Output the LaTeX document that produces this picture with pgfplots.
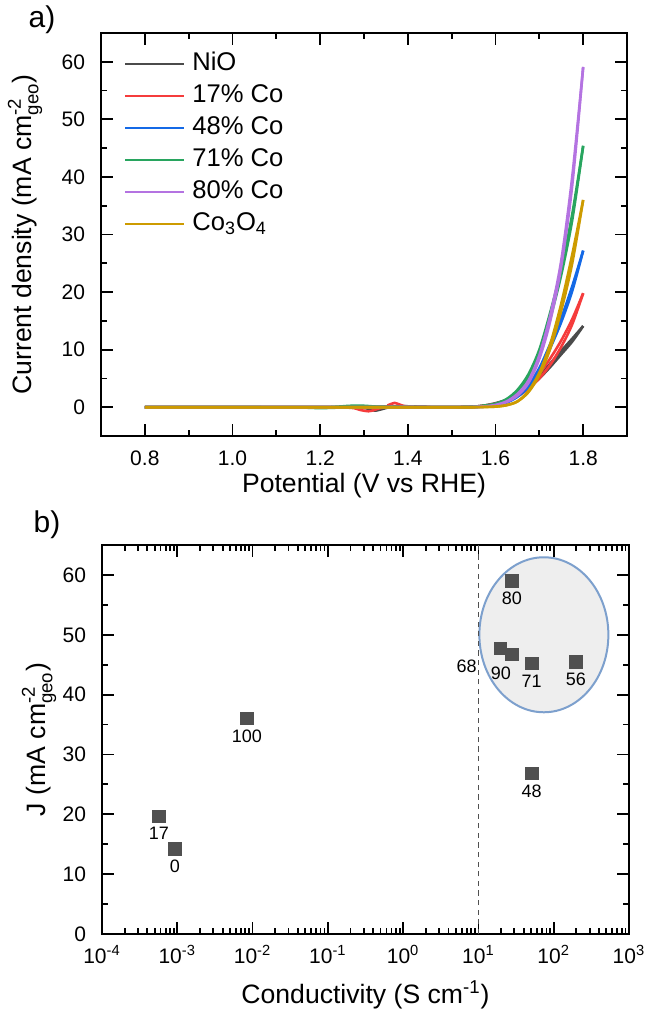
\documentclass[border=0pt]{standalone}
\usepackage{fontspec}
\setmainfont{Liberation Sans}
\usepackage{amsmath}
\usepackage{pgfplots}
\pgfplotsset{compat=1.18}

\definecolor{cNiO}{RGB}{75,75,75}
\definecolor{cRed}{RGB}{245,60,60}
\definecolor{cBlue}{RGB}{20,105,230}
\definecolor{cGreen}{RGB}{40,165,95}
\definecolor{cPurple}{RGB}{180,115,225}
\definecolor{cGold}{RGB}{205,155,0}
\definecolor{markgray}{RGB}{80,80,80}
\definecolor{ellfill}{RGB}{238,238,238}
\definecolor{elledge}{RGB}{125,160,205}

\pgfplotsset{
  panel/.style={
    scale only axis,
    anchor=north west,
    axis line style={line width=1pt},
    every tick/.style={line width=0.9pt, black},
    major tick length=6pt,
    minor tick length=3pt,
    tick align=inside,
    xtick pos=both, ytick pos=both,
    tick label style={font=\fontsize{10.5}{12}\selectfont},
    /pgf/number format/assume math mode=true,
    label style={font=\fontsize{13.3}{15}\selectfont},
    ytick={0,10,20,30,40,50,60},
    minor y tick num=1,
    yticklabel style={xshift=-4.5pt},
  },
  curve/.style={line width=1.3pt, smooth, tension=0.5},
}

\begin{document}
\begin{tikzpicture}
\useasboundingbox (0,0) rectangle (323pt,-507.5pt);

\node[font=\fontsize{15}{18}\selectfont] at (21pt,-10pt) {a)};
\node[font=\fontsize{15}{18}\selectfont] at (23.5pt,-262.5pt) {b)};

% ---- a) polarisation curves
\begin{axis}[panel,
  at={(50.5pt,-16.5pt)},
  width=263pt, height=201.5pt,
  xmin=0.7, xmax=1.9, ymin=-5, ymax=65,
  xtick={0.8,1.0,1.2,1.4,1.6,1.8},
  minor x tick num=1,
  xticklabel style={yshift=-4pt, /pgf/number format/.cd, fixed, fixed zerofill, precision=1},
  xlabel={Potential (V vs RHE)},
  ylabel={Current density (mA cm${}^{\text{-2}}_{\text{geo}}$)},
  xlabel style={at={(axis description cs:0.5,0)}, anchor=center, yshift=-25pt},
  ylabel style={at={(axis description cs:-0.1445,0.5)}, anchor=center},
  legend style={draw=none, fill=none, at={(axis description cs:0.031,0.965)}, anchor=north west,
    font=\fontsize{12.8}{14}\selectfont, row sep=3.5pt,
    nodes={inner sep=0pt, text height=9.5pt, text depth=3pt},
    /tikz/every odd column/.append style={column sep=3.5pt}},
  legend cell align=left,
  legend image code/.code={\draw[#1, line width=1.3pt] (0pt,0pt) -- (29.5pt,0pt);},
]
% NiO
\addplot[curve, cNiO] coordinates {
(0.8,0)(1.0,0)(1.2,0)(1.3,0.02)(1.37,0.08)(1.39,0.2)(1.41,0.1)(1.45,0.02)(1.5,0)
(1.55,0.1)(1.575,0.3)(1.6,0.7)(1.625,1.3)(1.65,2.3)(1.675,3.7)(1.7,5.4)(1.725,7.6)(1.75,9.8)(1.775,11.9)(1.8,14.1)};
\addlegendentry{NiO}
\addplot[curve, cNiO, forget plot] coordinates {
(1.8,14.1)(1.775,11.4)(1.75,9.2)(1.725,7.0)(1.7,5.0)(1.675,3.3)(1.65,2.0)(1.625,1.1)(1.6,0.5)(1.575,0.2)(1.55,0.05)(1.5,0)
(1.4,0)(1.36,0)(1.345,-0.25)(1.325,-0.6)(1.31,-0.3)(1.29,-0.05)(1.2,0)(1.0,0)(0.8,0)};
% 17 % Co
\addplot[curve, cRed] coordinates {
(0.8,0)(1.0,0)(1.2,0)(1.34,0.05)(1.355,0.35)(1.37,0.75)(1.385,0.35)(1.4,0.12)(1.45,0.03)(1.5,0)
(1.55,0.1)(1.575,0.3)(1.6,0.6)(1.625,1.2)(1.65,2.2)(1.675,3.7)(1.7,5.8)(1.725,8.5)(1.75,11.6)(1.775,15.3)(1.8,19.8)};
\addlegendentry{17\% Co}
\addplot[curve, cRed, forget plot] coordinates {
(1.8,19.8)(1.775,14.4)(1.75,10.5)(1.725,7.4)(1.7,5.0)(1.675,3.2)(1.65,1.9)(1.625,1.0)(1.6,0.45)(1.575,0.15)(1.55,0.05)(1.5,0)
(1.38,0.05)(1.34,-0.1)(1.325,-0.45)(1.31,-0.7)(1.29,-0.45)(1.27,-0.1)(1.2,0)(1.0,0)(0.8,0)};
% 48 % Co
\addplot[curve, cBlue] coordinates {
(0.8,0)(1.0,0)(1.2,0)(1.3,0.05)(1.4,0.05)(1.5,0)
(1.55,0.05)(1.575,0.15)(1.6,0.4)(1.625,0.9)(1.65,2.0)(1.675,3.8)(1.7,6.8)(1.725,11.0)(1.75,15.5)(1.775,21.0)(1.8,27.2)};
\addlegendentry{48\% Co}
\addplot[curve, cBlue, forget plot] coordinates {
(1.8,27.2)(1.775,20.2)(1.75,14.8)(1.725,10.3)(1.7,6.3)(1.675,3.5)(1.65,1.8)(1.625,0.8)(1.6,0.3)(1.575,0.1)(1.55,0.03)(1.5,0)
(1.4,0)(1.3,-0.05)(1.2,0)(1.0,0)(0.8,0)};
% 71 % Co
\addplot[curve, cGreen] coordinates {
(0.8,0)(1.0,0)(1.2,0)(1.24,0.1)(1.27,0.25)(1.3,0.25)(1.33,0.1)(1.38,0.05)(1.5,0)
(1.55,0.1)(1.575,0.3)(1.6,0.6)(1.625,1.4)(1.65,3.0)(1.675,5.7)(1.7,10.0)(1.725,16.5)(1.75,24.0)(1.775,33.5)(1.8,45.4)};
\addlegendentry{71\% Co}
\addplot[curve, cGreen, forget plot] coordinates {
(1.8,45.4)(1.775,32.5)(1.75,23.0)(1.725,15.5)(1.7,9.3)(1.675,5.2)(1.65,2.6)(1.625,1.2)(1.6,0.5)(1.575,0.2)(1.55,0.05)(1.5,0)
(1.3,0)(1.25,-0.05)(1.2,-0.15)(1.15,-0.05)(1.0,0)(0.8,0)};
% 80 % Co
\addplot[curve, cPurple] coordinates {
(0.8,0)(1.0,0)(1.2,0)(1.4,0.03)(1.5,0)
(1.55,0.05)(1.575,0.15)(1.6,0.4)(1.625,1.0)(1.65,2.3)(1.675,4.6)(1.7,9.0)(1.725,16.0)(1.75,25.5)(1.775,40.0)(1.8,59.1)};
\addlegendentry{80\% Co}
\addplot[curve, cPurple, forget plot] coordinates {
(1.8,59.1)(1.775,38.5)(1.75,24.5)(1.725,15.0)(1.7,8.4)(1.675,4.2)(1.65,2.0)(1.625,0.9)(1.6,0.3)(1.575,0.1)(1.55,0.03)(1.5,0)
(1.3,0)(1.0,0)(0.8,0)};
% Co3O4
\addplot[curve, cGold] coordinates {
(0.8,0)(1.0,0)(1.2,0)(1.4,0)(1.5,0)
(1.55,0)(1.575,0.05)(1.6,0.1)(1.625,0.35)(1.65,1.0)(1.675,2.8)(1.7,6.0)(1.725,11.0)(1.75,18.0)(1.775,26.5)(1.8,36.0)};
\addlegendentry{Co\textsubscript{3}O\textsubscript{4}}
\addplot[curve, cGold, forget plot] coordinates {
(1.8,36.0)(1.775,25.0)(1.75,16.8)(1.725,10.2)(1.7,5.6)(1.675,2.6)(1.65,1.0)(1.625,0.35)(1.6,0.1)(1.575,0.03)(1.55,0)(1.5,0)
(1.3,0)(1.0,0)(0.8,0)};
\end{axis}

% ---- b) J vs conductivity
\begin{axis}[panel,
  at={(51pt,-272.5pt)},
  width=263.5pt, height=194.5pt,
  xmode=log, xmin=1e-4, xmax=1e3, ymin=0, ymax=65,
  xtick={1e-4,1e-3,1e-2,1e-1,1,10,100,1000},
  xticklabels={10\textsuperscript{-4},10\textsuperscript{-3},10\textsuperscript{-2},10\textsuperscript{-1},10\textsuperscript{0},10\textsuperscript{1},10\textsuperscript{2},10\textsuperscript{3}},
  minor xtick={2e-4,3e-4,4e-4,5e-4,6e-4,7e-4,8e-4,9e-4,
    2e-3,3e-3,4e-3,5e-3,6e-3,7e-3,8e-3,9e-3,
    2e-2,3e-2,4e-2,5e-2,6e-2,7e-2,8e-2,9e-2,
    0.2,0.3,0.4,0.5,0.6,0.7,0.8,0.9,
    2,3,4,5,6,7,8,9,
    20,30,40,50,60,70,80,90,
    200,300,400,500,600,700,800,900},
  xticklabel style={yshift=-2pt},
  xlabel={Conductivity (S cm\textsuperscript{-1})},
  ylabel={J (mA cm${}^{\text{-2}}_{\text{geo}}$)},
  xlabel style={at={(axis description cs:0.5,0)}, anchor=center, yshift=-30.5pt},
  ylabel style={at={(axis description cs:-0.1195,0.5)}, anchor=center},
  every node near coord/.style={font=\fontsize{9}{10}\selectfont, anchor=center, yshift=-8.75pt, text=black},
]
\draw[elledge, line width=1pt, fill=ellfill] (axis cs:74,50) ellipse [x radius=32.25pt, y radius=38.75pt];
\addplot[markgray, line width=0.6pt, dash pattern=on 2.6pt off 2.2pt] coordinates {(10,0)(10,65)};
\addplot[only marks, mark=square*, mark size=3.1pt, markgray,
  nodes near coords, point meta=explicit symbolic] table[x=s, y=j, meta=lab] {
s j lab
9.3e-4 14.2 0
5.7e-4 19.7 17
51 26.8 48
51 45.2 71
27.9 59.0 80
197 45.5 56
8.4e-3 36.0 100
};
\addplot[only marks, mark=square*, mark size=3.1pt, markgray,
  nodes near coords, point meta=explicit symbolic,
  every node near coord/.append style={xshift=-17pt, yshift=-0.25pt}] table[x=s, y=j, meta=lab] {
s j lab
19.7 47.7 68
};
\addplot[only marks, mark=square*, mark size=3.1pt, markgray,
  nodes near coords, point meta=explicit symbolic,
  every node near coord/.append style={xshift=-5.5pt, yshift=-0.75pt}] table[x=s, y=j, meta=lab] {
s j lab
27.9 46.7 90
};
\end{axis}
\end{tikzpicture}
\end{document}
